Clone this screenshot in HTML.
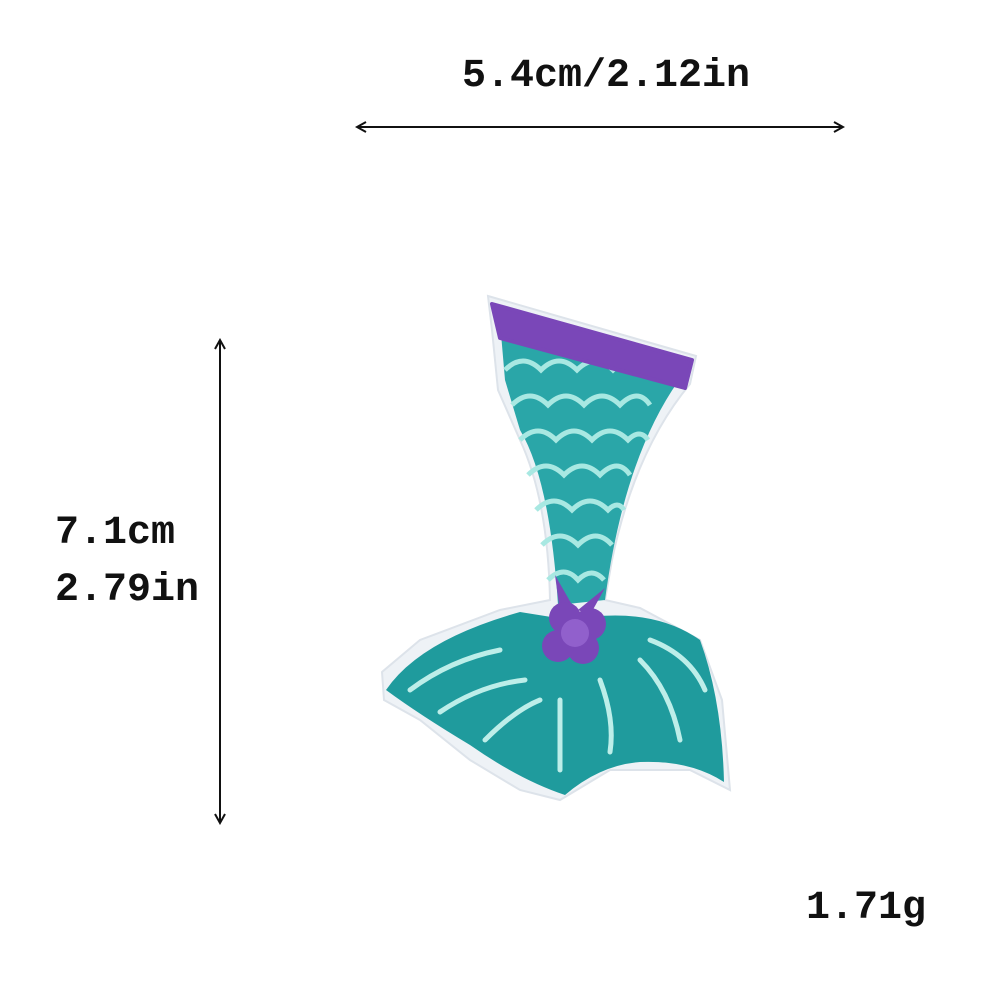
<!DOCTYPE html>
<html><head><meta charset="utf-8">
<style>
html,body{margin:0;padding:0;background:#fff;}
#root{position:relative;width:1000px;height:1000px;overflow:hidden;background:#fff;}
.t{position:absolute;font-family:"Liberation Mono","DejaVu Sans Mono",monospace;font-size:40px;font-weight:bold;color:#111;letter-spacing:0px;white-space:nowrap;line-height:1;}
svg{position:absolute;left:0;top:0;}
</style></head>
<body>
<div id="root">
<svg width="1000" height="1000" viewBox="0 0 1000 1000">
  <defs>
    <marker id="ah" markerWidth="12" markerHeight="12" refX="10" refY="6" orient="auto-start-reverse" markerUnits="userSpaceOnUse">
      <path d="M1,1 L10,6 L1,11" fill="none" stroke="#111" stroke-width="2"/>
    </marker>
  </defs>
  <line x1="357" y1="127" x2="843" y2="127" stroke="#111" stroke-width="2" marker-start="url(#ah)" marker-end="url(#ah)"/>
  <line x1="220" y1="340" x2="220" y2="823" stroke="#111" stroke-width="2" marker-start="url(#ah)" marker-end="url(#ah)"/>
  <g>
    <path d="M488,296 L696,356 L690,384 Q635,450 612,560 L605,600 L640,608 L700,640 L722,700 L730,790 L690,770 L610,770 L560,800 L520,790 L470,760 L420,720 L384,700 L382,672 L420,640 L500,610 L550,600 Q548,500 520,440 L498,390 L492,330 Z" fill="#eef2f6" stroke="#dde3ea" stroke-width="2"/>
    <path d="M500,322 L685,372 Q625,450 605,600 L558,605 Q550,480 520,430 L505,380 Z" fill="#2aa6a8"/>
    <g fill="none" stroke="#a8e8e2" stroke-width="5">
      <path d="M505,370 q18,-18 36,0 q18,-18 36,0 q18,-18 36,0 q18,-18 36,0 q18,-18 30,0"/>
      <path d="M512,405 q18,-18 36,0 q18,-18 36,0 q18,-18 36,0 q18,-18 30,0"/>
      <path d="M520,440 q18,-18 36,0 q18,-18 36,0 q18,-18 36,0 q12,-12 20,0"/>
      <path d="M528,475 q18,-18 36,0 q18,-18 36,0 q18,-18 30,0"/>
      <path d="M536,510 q18,-18 36,0 q18,-18 36,0 q10,-10 16,0"/>
      <path d="M542,545 q18,-18 36,0 q18,-18 34,0"/>
      <path d="M548,580 q16,-16 30,0 q14,-14 26,0"/>
    </g>
    <path d="M492,304 L692,360 L685,388 L500,338 Z" fill="#7a47b8" stroke="#7a47b8" stroke-width="4" stroke-linejoin="round"/>
    <path d="M386,690 Q420,640 520,612 L570,620 Q650,605 700,640 Q722,700 724,782 Q690,760 640,762 Q600,765 565,795 Q520,780 470,745 Q420,715 386,690 Z" fill="#1f9b9d"/>
    <g fill="none" stroke="#bdeee9" stroke-width="5" stroke-linecap="round">
      <path d="M410,690 Q450,660 500,650"/>
      <path d="M440,712 Q480,685 525,680"/>
      <path d="M485,740 Q515,710 540,700"/>
      <path d="M560,700 Q560,740 560,770"/>
      <path d="M600,680 Q615,720 610,752"/>
      <path d="M640,660 Q670,690 680,740"/>
      <path d="M650,640 Q690,655 705,690"/>
    </g>
    <g fill="#7a47b8">
      <path d="M555,575 L575,610 L560,612 Z"/>
      <path d="M605,588 L590,615 L578,610 Z"/>
      <circle cx="565" cy="618" r="16"/>
      <circle cx="590" cy="624" r="16"/>
      <circle cx="583" cy="648" r="16"/>
      <circle cx="558" cy="646" r="16"/>
      <circle cx="575" cy="633" r="14" fill="#9160cc"/>
    </g>
  </g>
</svg>
<div class="t" style="left:462px;top:57px;">5.4cm/2.12in</div>
<div class="t" style="left:55px;top:514px;">7.1cm</div>
<div class="t" style="left:55px;top:571px;">2.79in</div>
<div class="t" style="left:806px;top:889px;">1.71g</div>
</div>
</body></html>
